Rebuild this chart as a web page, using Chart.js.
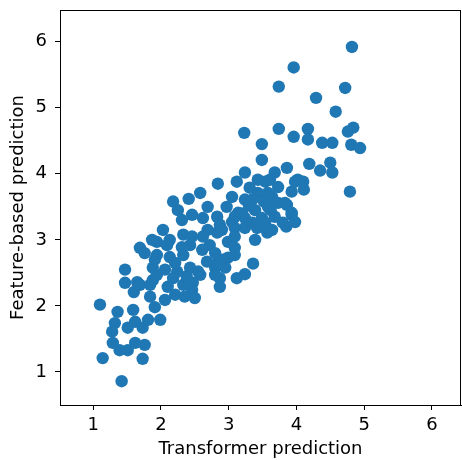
<!DOCTYPE html>
<html>
<head>
<meta charset="utf-8">
<script src="https://cdn.jsdelivr.net/npm/chart.js@4/dist/chart.umd.min.js"></script>
<style>
html,body{margin:0;padding:0;background:#fff;}
#wrap{width:462px;height:460px;}
</style>
</head>
<body>
<div id="wrap"><canvas id="c" width="462" height="460"></canvas></div>
<script>
const xTitle = "Transformer prediction";
const yTitle = "Feature-based prediction";
const xTicks = [1, 2, 3, 4, 5, 6];
const yTicks = [1, 2, 3, 4, 5, 6];

const transformerPred = [
4.82,3.96,3.74,4.72,4.29,4.58,3.23,3.74,3.49,4.17,3.96,4.17,4.38,4.53,4.76,4.84,4.81,4.94,3.49,
4.19,4.35,4.50,4.53,4.79,4.02,4.10,4.11,3.93,3.93,3.86,3.85,3.86,3.68,3.54,3.73,3.98,
3.24,3.12,3.31,3.05,3.24,3.43,3.64,3.83,3.58,3.39,3.14,3.24,3.49,3.68,3.93,3.98,3.80,3.05,
2.84,2.58,2.41,2.18,2.25,2.69,2.46,2.62,2.83,2.31,2.97,
2.03,1.94,2.13,2.33,2.43,2.33,2.13,1.94,1.88,2.06,2.24,2.43,2.58,2.47,2.68,2.80,2.90,2.72,2.62,2.83,2.87,2.87,
1.84,2.33,1.88,3.12,3.24,3.36,3.57,3.39,3.42,3.24,3.09,2.99,3.09,2.99,2.95,2.87,2.46,2.50,2.80,2.55,
1.47,1.47,1.65,1.60,1.69,1.84,1.94,1.10,1.36,1.59,1.32,1.28,1.51,1.62,1.73,1.81,1.99,1.91,
1.29,1.39,1.51,1.62,1.76,1.14,1.73,1.42,
1.87,1.69,1.76,2.09,2.21,1.91,2.31,2.06,2.21,2.10,2.35,
3.09,2.90,3.35,3.54,2.46,2.69,3.09,2.61,2.80,2.83,3.09,3.64,3.73,3.35,3.58,3.43,3.61,
3.30,3.52,3.20,3.62,2.18,2.38
];
const featurePred = [
5.92,5.61,5.32,5.30,5.15,4.94,4.62,4.68,4.45,4.68,4.56,4.52,4.47,4.47,4.64,4.70,4.44,4.39,4.21,
4.15,4.05,4.17,4.02,3.73,3.91,3.88,3.76,3.73,3.38,3.53,3.20,4.09,4.02,3.88,3.80,3.88,
4.02,3.88,3.79,3.65,3.61,3.71,3.65,3.56,3.50,3.45,3.41,3.33,3.33,3.35,3.41,3.27,3.26,3.27,
3.85,3.71,3.62,3.58,3.45,3.50,3.38,3.33,3.35,3.30,3.50,
3.15,2.97,3.00,3.08,2.92,2.77,2.74,2.77,2.58,2.55,2.52,2.58,2.47,2.35,2.67,2.58,2.70,2.92,3.05,3.11,2.42,3.23,
2.32,2.32,2.39,2.42,2.48,2.64,3.11,3.00,3.18,3.18,3.18,2.97,2.88,2.73,2.58,2.29,2.24,2.12,2.47,2.52,
2.55,2.35,2.36,2.21,2.32,2.14,2.47,2.02,1.91,1.94,1.74,1.61,1.67,1.76,1.67,1.79,1.79,1.98,
1.44,1.33,1.33,1.44,1.41,1.21,1.20,0.86,
3.00,2.88,2.80,2.92,2.65,2.70,2.89,2.09,2.17,2.29,2.14,
3.35,3.15,3.26,3.26,3.05,3.15,3.05,2.85,2.80,2.65,2.77,3.15,3.56,3.61,3.71,3.91,3.91,
3.52,3.58,3.40,3.45,2.42,2.45
];

const points = transformerPred.map((x, i) => ({x: x, y: featurePred[i]}));

const boxPlugin = {
  id: 'box',
  afterDraw(chart) {
    const a = chart.chartArea, ctx = chart.ctx;
    ctx.save();
    ctx.strokeStyle = '#000';
    ctx.lineWidth = 1;
    ctx.strokeRect(Math.round(a.left) + 0.5, Math.round(a.top) + 0.5, Math.round(a.right - a.left) - 1, Math.round(a.bottom - a.top));
    ctx.restore();
  }
};
const bgPlugin = {
  id: 'bg',
  beforeDraw(chart) {
    const ctx = chart.ctx;
    ctx.save(); ctx.fillStyle = '#fff'; ctx.fillRect(0, 0, chart.width, chart.height); ctx.restore();
  }
};

const font = {family: 'DejaVu Sans', size: 18};

function noPad(s) { s.paddingLeft = 0; s.paddingRight = 0; s.paddingTop = 0; s.paddingBottom = 0; }

new Chart(document.getElementById('c'), {
  type: 'scatter',
  data: {
    datasets: [{
      data: points,
      backgroundColor: '#1f77b4',
      borderWidth: 0,
      pointRadius: 6.2,
      pointHoverRadius: 6.2
    }]
  },
  options: {
    responsive: false,
    animation: false,
    events: [],
    layout: {autoPadding: false, padding: {top: 10, right: 1, left: 0, bottom: 0}},
    plugins: {legend: {display: false}, tooltip: {enabled: false}},
    scales: {
      x: {
        type: 'linear',
        min: 0.51, max: 6.43,
        afterBuildTicks: s => { s.ticks = xTicks.map(v => ({value: v})); },
        afterFit: s => { s.height = 55; noPad(s); },
        grid: {display: true, drawOnChartArea: false, drawTicks: true, tickLength: 5, color: '#000', tickColor: '#000'},
        border: {display: true, color: '#000', width: 1},
        ticks: {color: '#000', font: font, padding: 5, maxRotation: 0, callback: v => String(v)},
        title: {display: true, text: xTitle, color: '#000', font: font, padding: {top: 0, bottom: 0}}
      },
      y: {
        type: 'linear',
        min: 0.5, max: 6.48,
        afterBuildTicks: s => { s.ticks = yTicks.map(v => ({value: v})); },
        afterFit: s => { s.width = 60; noPad(s); },
        grid: {display: true, drawOnChartArea: false, drawTicks: true, tickLength: 5, color: '#000', tickColor: '#000'},
        border: {display: true, color: '#000', width: 1},
        ticks: {color: '#000', font: font, padding: 8, callback: v => String(v)},
        title: {display: true, text: yTitle, color: '#000', font: font, padding: {top: 8, bottom: 0}}
      }
    }
  },
  plugins: [bgPlugin, boxPlugin]
});
</script>
</body>
</html>
